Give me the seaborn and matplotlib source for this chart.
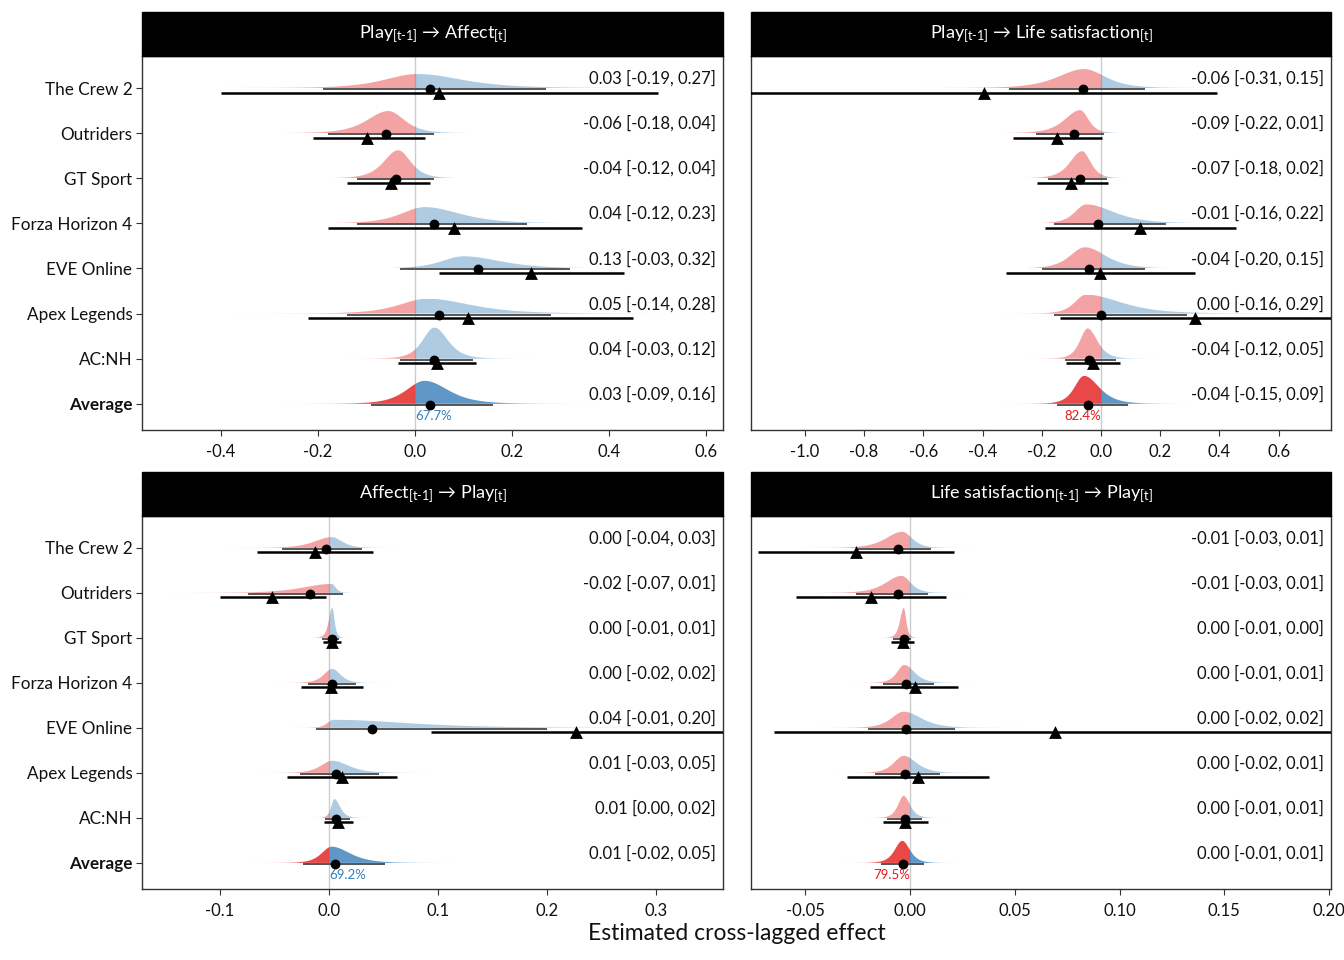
import numpy as np
import matplotlib
matplotlib.use("Agg")
import matplotlib.pyplot as plt
import matplotlib.transforms as mtransforms
from matplotlib.patches import Polygon, Rectangle
from matplotlib.colors import to_rgb
import seaborn as sns

games = ["The Crew 2", "Outriders", "GT Sport", "Forza Horizon 4",
         "EVE Online", "Apex Legends", "AC:NH", "Average"]

# Play[t-1] -> Affect[t]
pa_est = [0.03, -0.06, -0.04, 0.04, 0.13, 0.05, 0.04, 0.03]
pa_lo = [-0.19, -0.18, -0.12, -0.12, -0.03, -0.14, -0.03, -0.09]
pa_hi = [0.27, 0.04, 0.04, 0.23, 0.32, 0.28, 0.12, 0.16]
pa_tri = [0.05, -0.10, -0.05, 0.08, 0.24, 0.11, 0.045]
pa_tri_lo = [-0.40, -0.21, -0.14, -0.18, 0.05, -0.22, -0.035]
pa_tri_hi = [0.50, 0.02, 0.03, 0.345, 0.43, 0.45, 0.125]
pa_mode = [0.005, -0.055, -0.035, 0.02, 0.10, 0.025, 0.04, 0.02]
pa_height = [0.31, 0.49, 0.62, 0.36, 0.27, 0.33, 0.69, 0.51]
pa_prob = 67.7

# Play[t-1] -> Life satisfaction[t]
pl_est = [-0.06, -0.09, -0.07, -0.01, -0.04, 0.00, -0.04, -0.044]
pl_lo = [-0.31, -0.22, -0.18, -0.16, -0.20, -0.16, -0.12, -0.15]
pl_hi = [0.15, 0.01, 0.02, 0.22, 0.15, 0.29, 0.05, 0.09]
pl_tri = [-0.395, -0.147, -0.10, 0.132, -0.004, 0.317, -0.028]
pl_tri_lo = [-1.30, -0.298, -0.217, -0.189, -0.322, -0.137, -0.117]
pl_tri_hi = [0.393, 0.003, 0.023, 0.455, 0.317, 0.90, 0.064]
pl_mode = [-0.057, -0.07, -0.064, -0.05, -0.054, -0.051, -0.045, -0.057]
pl_height = [0.42, 0.51, 0.60, 0.42, 0.47, 0.42, 0.67, 0.62]
pl_prob = -82.4

# Affect[t-1] -> Play[t]
ap_est = [-0.003, -0.017, 0.0024, 0.0024, 0.039, 0.0066, 0.0066, 0.0055]
ap_lo = [-0.043, -0.074, -0.006, -0.0195, -0.012, -0.027, -0.0034, -0.024]
ap_hi = [0.03, 0.013, 0.009, 0.0248, 0.20, 0.046, 0.0197, 0.051]
ap_tri = [-0.0128, -0.052, 0.0024, 0.0017, 0.2266, 0.0117, 0.0083]
ap_tri_lo = [-0.066, -0.10, -0.0055, -0.026, 0.094, -0.039, -0.0045]
ap_tri_hi = [0.040, -0.003, 0.011, 0.031, 0.45, 0.062, 0.022]
ap_mode = [0.0025, 0.0025, 0.003, 0.003, 0.004, 0.003, 0.005, 0.0024]
ap_height = [0.24, 0.20, 0.67, 0.31, 0.18, 0.27, 0.42, 0.36]
ap_prob = 69.2

# Life satisfaction[t-1] -> Play[t]
lp_est = [-0.0056, -0.0056, -0.003, -0.002, -0.002, -0.0022, -0.0026, -0.0033]
lp_lo = [-0.026, -0.0258, -0.008, -0.0128, -0.020, -0.0165, -0.0108, -0.014]
lp_hi = [0.0098, 0.0085, 0.0004, 0.0113, 0.0214, 0.0145, 0.0057, 0.0068]
lp_tri = [-0.026, -0.0188, -0.0035, 0.0022, 0.069, 0.0037, -0.0024]
lp_tri_lo = [-0.0726, -0.0546, -0.009, -0.019, -0.065, -0.030, -0.0128]
lp_tri_hi = [0.021, 0.017, 0.002, 0.023, 0.25, 0.0378, 0.0086]
lp_mode = [-0.0037, -0.004, -0.003, -0.0027, -0.003, -0.003, -0.003, -0.0037]
lp_height = [0.36, 0.38, 0.67, 0.40, 0.36, 0.38, 0.49, 0.49]
lp_prob = -79.5

RED = "#E41A1C"
BLUE = "#377EB8"

sns.set_theme(style="ticks")
plt.rcParams["font.family"] = ["Lato", "DejaVu Sans"]
plt.rcParams["axes.unicode_minus"] = False
plt.rcParams["mathtext.fontset"] = "custom"
plt.rcParams["mathtext.rm"] = "Lato"
plt.rcParams["mathtext.it"] = "Lato:italic"
plt.rcParams["mathtext.bf"] = "Lato:bold"


def fmt(v):
    s = f"{v:.2f}"
    return "0.00" if s == "-0.00" else s


def draw_panel(ax, est, lo, hi, tri, tri_lo, tri_hi, mode, height, prob,
               xlim, ticks, tickfmt, title, show_y):
    rows = np.arange(len(games))
    ax.axvline(0, color="#cccccc", lw=1, zorder=0.5)

    xs = np.linspace(xlim[0], xlim[1], 1400)
    red, blue = np.array(to_rgb(RED)), np.array(to_rgb(BLUE))
    for i in rows:
        sl = (mode[i] - lo[i]) / 2.78
        sr = (hi[i] - mode[i]) / 2.78
        z = np.where(xs < mode[i], (xs - mode[i]) / sl, (xs - mode[i]) / sr)
        f = (1 + z ** 2 / 4) ** (-2.5)
        h = height[i] * f
        width = hi[i] - lo[i]
        d = np.where(xs < lo[i], lo[i] - xs, np.where(xs > hi[i], xs - hi[i], 0))
        ramp = np.clip(1 - d / (1.1 * width), 0, 1)
        base = 0.8 if i == len(games) - 1 else 0.4
        rgba = np.zeros((1, len(xs), 4))
        rgba[0, :, :3] = np.where((xs < 0)[:, None], red, blue)
        rgba[0, :, 3] = base * ramp
        im = ax.imshow(rgba, extent=(xs[0], xs[-1], i, i - h.max()),
                       aspect="auto", interpolation="nearest", zorder=1)
        verts = np.column_stack([np.r_[xs, xs[::-1]],
                                 np.r_[i - h, np.full(len(xs), float(i))]])
        patch = Polygon(verts, closed=True, fc="none", ec="none")
        ax.add_patch(patch)
        im.set_clip_path(patch)

    # pooled estimate with interval
    ax.hlines(rows + 0.02, lo, hi, color="#555555", lw=1.4, zorder=3)
    sns.scatterplot(x=est, y=rows + 0.02, marker="o", s=50, color="black",
                    edgecolor="black", linewidth=0, zorder=4, ax=ax, legend=False)
    # game-only estimate
    trows = rows[:len(tri)] + 0.10
    ax.hlines(trows, tri_lo, tri_hi, color="black", lw=1.8, zorder=5)
    sns.scatterplot(x=tri, y=trows, marker="^", s=85, color="black",
                    edgecolor="black", linewidth=0, zorder=6, ax=ax, legend=False)

    trans = mtransforms.blended_transform_factory(ax.transAxes, ax.transData)
    for i in rows:
        ax.text(0.988, i - 0.21, f"{fmt(est[i])} [{fmt(lo[i])}, {fmt(hi[i])}]",
                ha="right", va="center", fontsize=12, color="#111111",
                transform=trans, zorder=7)

    if prob > 0:
        ax.text(0, rows[-1] + 0.27, f"{prob:.1f}%", ha="left", va="center",
                color=BLUE, fontsize=9.5, zorder=7)
    else:
        ax.text(0, rows[-1] + 0.27, f"{-prob:.1f}%", ha="right", va="center",
                color=RED, fontsize=9.5, zorder=7)

    ax.set_xlim(*xlim)
    ax.set_ylim(7.58, -0.71)
    ax.set_xticks(ticks)
    ax.set_xticklabels([tickfmt.format(t) for t in ticks])
    ax.set_yticks(rows)
    if show_y:
        ax.set_yticklabels(games)
        ax.get_yticklabels()[-1].set_fontweight("bold")
        ax.tick_params(axis="y", length=4, width=0.8, color="#333333",
                       labelsize=12.3, labelcolor="#111111", pad=3)
    else:
        ax.tick_params(axis="y", left=False, labelleft=False)
    ax.tick_params(axis="x", length=4, width=0.8, color="#333333",
                   labelsize=12, labelcolor="#111111", pad=6)
    for sp in ax.spines.values():
        sp.set_visible(True)
        sp.set_color("#333333")
        sp.set_linewidth(1.0)
    ax.set_xlabel("")
    ax.set_ylabel("")

    strip_h = 44 / 374
    ax.add_patch(Rectangle((0, 1), 1, strip_h, transform=ax.transAxes,
                           color="black", clip_on=False, zorder=10))
    ax.text(0.5, 1 + strip_h / 2, title, transform=ax.transAxes, ha="center",
            va="center", color="white", fontsize=13, zorder=11)


fig = plt.figure(figsize=(13.44, 9.6), dpi=100)
W, H = 1344, 960
ax_tl = fig.add_axes([142 / W, 1 - 430 / H, 581 / W, 374 / H])
ax_tr = fig.add_axes([751 / W, 1 - 430 / H, 580 / W, 374 / H])
ax_bl = fig.add_axes([142 / W, 1 - 889 / H, 581 / W, 373 / H])
ax_br = fig.add_axes([751 / W, 1 - 889 / H, 580 / W, 373 / H])

draw_panel(ax_tl, pa_est, pa_lo, pa_hi, pa_tri, pa_tri_lo, pa_tri_hi, pa_mode,
           pa_height, pa_prob, (-0.563, 0.635), [-0.4, -0.2, 0.0, 0.2, 0.4, 0.6],
           "{:.1f}", r"Play$_{\text{[t-1]}}$ → Affect$_{\text{[t]}}$", True)
draw_panel(ax_tr, pl_est, pl_lo, pl_hi, pl_tri, pl_tri_lo, pl_tri_hi, pl_mode,
           pl_height, pl_prob, (-1.182, 0.777),
           [-1.0, -0.8, -0.6, -0.4, -0.2, 0.0, 0.2, 0.4, 0.6], "{:.1f}",
           r"Play$_{\text{[t-1]}}$ → Life satisfaction$_{\text{[t]}}$", False)
draw_panel(ax_bl, ap_est, ap_lo, ap_hi, ap_tri, ap_tri_lo, ap_tri_hi, ap_mode,
           ap_height, ap_prob, (-0.1716, 0.3615), [-0.1, 0.0, 0.1, 0.2, 0.3],
           "{:.1f}", r"Affect$_{\text{[t-1]}}$ → Play$_{\text{[t]}}$", True)
draw_panel(ax_br, lp_est, lp_lo, lp_hi, lp_tri, lp_tri_lo, lp_tri_hi, lp_mode,
           lp_height, lp_prob, (-0.0759, 0.2009),
           [-0.05, 0.0, 0.05, 0.10, 0.15, 0.20], "{:.2f}",
           r"Life satisfaction$_{\text{[t-1]}}$ → Play$_{\text{[t]}}$", False)

fig.text(737 / W, 1 - 934 / H, "Estimated cross-lagged effect", ha="center",
         va="center", fontsize=16.5, color="#111111")

fig.savefig("out.png", dpi=100, facecolor="white")
